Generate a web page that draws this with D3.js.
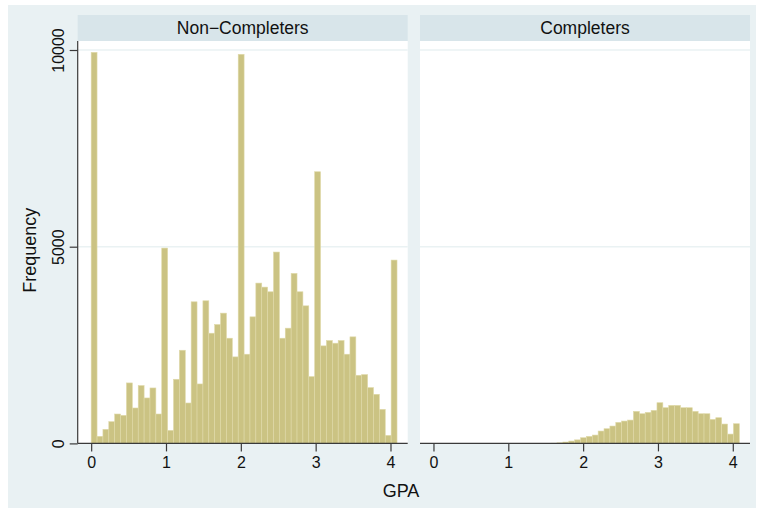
<!DOCTYPE html>
<html>
<head>
<meta charset="utf-8">
<script src="https://cdn.jsdelivr.net/npm/d3@7/dist/d3.min.js"></script>
<style>
  html, body { margin: 0; padding: 0; background: #ffffff; }
  svg { display: block; }
  text { font-family: "Liberation Sans", Arial, Helvetica, sans-serif; fill: #111; }
</style>
</head>
<body>
<svg id="chart" width="764" height="511"></svg>
<script>
// ---- data ----
const panels = ["Non\u2212Completers", "Completers"];
const binStart = 0;
const binWidth = 0.0786;
const nonCompleters = [
  9940, 180, 357, 552, 747, 713, 1537, 900, 1469, 1155,
  1409, 747, 4965, 331, 1630, 2368, 1027, 3599, 1511, 3625,
  2801, 3022, 3311, 2674, 2199, 9890, 2267, 3217, 4075, 3973,
  3854, 4864, 2674, 2929, 4321, 3854, 3497, 1698, 6905, 2479,
  2615, 2547, 2615, 2267, 2708, 1732, 1749, 1418, 1248, 866,
  204, 4660
];
const completers = [
  0, 0, 0, 0, 0, 0, 0, 0, 0, 0,
  0, 0, 0, 0, 0, 0, 0, 0, 0, 0,
  5, 15, 35, 60, 90, 144, 178, 212, 314, 373,
  441, 534, 568, 593, 814, 754, 788, 839, 1034, 907,
  966, 966, 907, 907, 814, 754, 754, 610, 653, 492,
  237, 500
];
const xTicks = [0, 1, 2, 3, 4];
const yTicks = [0, 5000, 10000];
const xTitle = "GPA";
const yTitle = "Frequency";

// ---- layout ----
const svg = d3.select("#chart");
const colors = {
  outer: "#e9f1f3",
  strip: "#d8e5ea",
  plot: "#ffffff",
  grid: "#eaf2f3",
  bar: "#cbc383",
  barEdge: "#dfd9a8",
  axis: "#3a3a3a"
};

svg.append("rect").attr("x", 8).attr("y", 5).attr("width", 748).attr("height", 503)
  .attr("fill", colors.outer);

const plotTop = 41, plotBottom = 443.4, stripTop = 15;
const panelX = [77.7, 420];
const panelW = 330;

const y = d3.scaleLinear().domain([0, 10000]).range([plotBottom, 50]);

const seriesList = [nonCompleters, completers];

panels.forEach((name, i) => {
  const x0 = panelX[i];
  const x = d3.scaleLinear().domain([-0.18, 4.23]).range([x0, x0 + panelW]);
  const g = svg.append("g");

  // strip
  g.append("rect").attr("x", x0).attr("y", stripTop).attr("width", panelW)
    .attr("height", plotTop - stripTop).attr("fill", colors.strip);
  g.append("text").attr("x", x0 + panelW / 2).attr("y", 34)
    .attr("text-anchor", "middle").attr("font-size", 17.5).text(name);

  // plot region
  g.append("rect").attr("x", x0).attr("y", plotTop).attr("width", panelW)
    .attr("height", plotBottom - plotTop).attr("fill", colors.plot);

  // gridlines
  g.selectAll(".grid").data(yTicks.filter(d => d > 0)).enter().append("line")
    .attr("x1", x0).attr("x2", x0 + panelW)
    .attr("y1", d => y(d)).attr("y2", d => y(d))
    .attr("stroke", colors.grid).attr("stroke-width", 1.5);

  // bars
  const data = seriesList[i].map((v, k) => ({ lo: binStart + k * binWidth, hi: binStart + (k + 1) * binWidth, v }));
  g.selectAll(".bar").data(data.filter(d => d.v > 0)).enter().append("rect")
    .attr("x", d => x(d.lo))
    .attr("width", d => x(d.hi) - x(d.lo))
    .attr("y", d => y(d.v))
    .attr("height", d => y(0) - y(d.v))
    .attr("fill", colors.bar)
    .attr("stroke", colors.barEdge)
    .attr("stroke-width", 0.6);

  // x axis
  const xAxis = d3.axisBottom(x).tickValues(xTicks).tickFormat(d3.format("d"))
    .tickSize(8).tickPadding(5);
  const xa = g.append("g").attr("transform", `translate(0,${plotBottom})`).call(xAxis);
  xa.select(".domain").attr("d", `M${x0},0H${x0 + panelW}`).attr("stroke", colors.axis).attr("stroke-width", 1.2);
  xa.selectAll(".tick line").attr("stroke", colors.axis).attr("stroke-width", 1.2);
  xa.selectAll(".tick text").attr("font-size", 16).attr("font-family", "Liberation Sans, Arial, sans-serif").attr("fill", "#111");

  // y axis (first panel only)
  if (i === 0) {
    const yAxis = d3.axisLeft(y).tickValues(yTicks).tickFormat(d3.format("d")).tickSize(8).tickPadding(4);
    const ya = g.append("g").attr("transform", `translate(${x0},0)`).call(yAxis);
    ya.select(".domain").attr("d", `M0,${plotTop}V${plotBottom}`).attr("stroke", colors.axis).attr("stroke-width", 1.2);
    ya.selectAll(".tick line").attr("stroke", colors.axis).attr("stroke-width", 1.2);
    ya.selectAll(".tick text")
      .attr("font-size", 16).attr("font-family", "Liberation Sans, Arial, sans-serif").attr("fill", "#111")
      .attr("text-anchor", "middle").attr("x", null).attr("dy", null)
      .attr("transform", "translate(-14,0) rotate(-90)");
  }
});

// axis titles
svg.append("text").attr("x", 401).attr("y", 497)
  .attr("text-anchor", "middle").attr("font-size", 18).text(xTitle);
svg.append("text").attr("transform", `translate(36,${(plotTop + plotBottom) / 2 + 8}) rotate(-90)`)
  .attr("text-anchor", "middle").attr("font-size", 18).text(yTitle);
</script>
</body>
</html>
